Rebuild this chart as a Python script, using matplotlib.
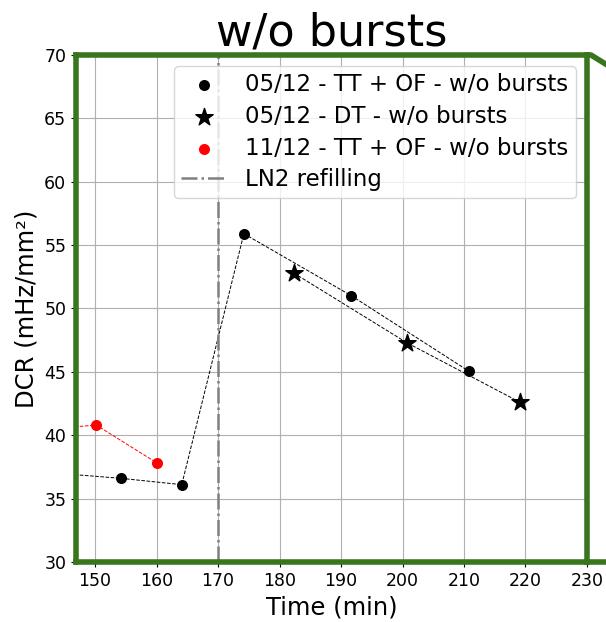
import numpy as np
import matplotlib
matplotlib.use("Agg")
import matplotlib.pyplot as plt
from matplotlib.lines import Line2D

# 05/12 - TT + OF (first point lies left of the visible range)
tt_time = [140.0, 154.2, 164.1, 174.2, 191.7, 210.8]
tt_dcr = [37.15, 36.6, 36.1, 55.9, 51.0, 45.05]
# 05/12 - DT
dt_time = [182.3, 200.7, 219.1]
dt_dcr = [52.8, 47.3, 42.6]
# 11/12 - TT + OF
red_time = [140.0, 150.2, 160.1]
red_dcr = [40.4, 40.8, 37.8]
LN2_T = 170

GREEN = "#38761d"

fig = plt.figure(figsize=(6.06, 6.22), dpi=100)
ax = fig.add_axes([0.1254, 0.0965, 0.8432, 0.8151])

ax.plot(tt_time, tt_dcr, "--", color="k", lw=0.7, zorder=2)
ax.scatter(tt_time, tt_dcr, color="k", s=48, zorder=3, label="05/12 - TT + OF - w/o bursts")
ax.plot(dt_time, dt_dcr, "--", color="k", lw=0.7, zorder=2)
ax.scatter(dt_time, dt_dcr, color="k", marker="*", s=170, zorder=3, label="05/12 - DT - w/o bursts")
ax.plot(red_time, red_dcr, "--", color="red", lw=0.7, zorder=2)
ax.scatter(red_time, red_dcr, color="red", s=48, zorder=3, label="11/12 - TT + OF - w/o bursts")
ax.axvline(LN2_T, color="gray", ls="-.", lw=1.8, label="LN2 refilling")

ax.set_xlim(146.9, 230)
ax.set_ylim(30, 70)
ax.set_xticks(np.arange(150, 231, 10))
ax.set_yticks(np.arange(30, 71, 5))
ax.tick_params(labelsize=12.5)
ax.grid(True, color="#b0b0b0", lw=0.8)
ax.set_axisbelow(True)
ax.set_xlabel("Time (min)", fontsize=17.5)
ax.set_ylabel("DCR (mHz/mm²)", fontsize=17.5)
ax.set_title("w/o bursts", fontsize=32, pad=4)
ax.legend(loc="upper right", fontsize=16.5, labelspacing=0.38, borderpad=0.3)

for s in ax.spines.values():
    s.set_color(GREEN)
    s.set_linewidth(4)

# outer box continuing past the right edge of the figure
W, H = 606.0, 622.0
xs = [587 / W, 591 / W, 612 / W]
ys = [1 - 55 / H, 1 - 55 / H, 1 - 68 / H]
fig.add_artist(Line2D(xs, ys, color=GREEN, lw=4, transform=fig.transFigure))
fig.add_artist(Line2D([587 / W, 1.02], [1 - 562 / H, 1 - 562 / H], color=GREEN, lw=4,
                      transform=fig.transFigure))

fig.savefig("out.png", dpi=100)
